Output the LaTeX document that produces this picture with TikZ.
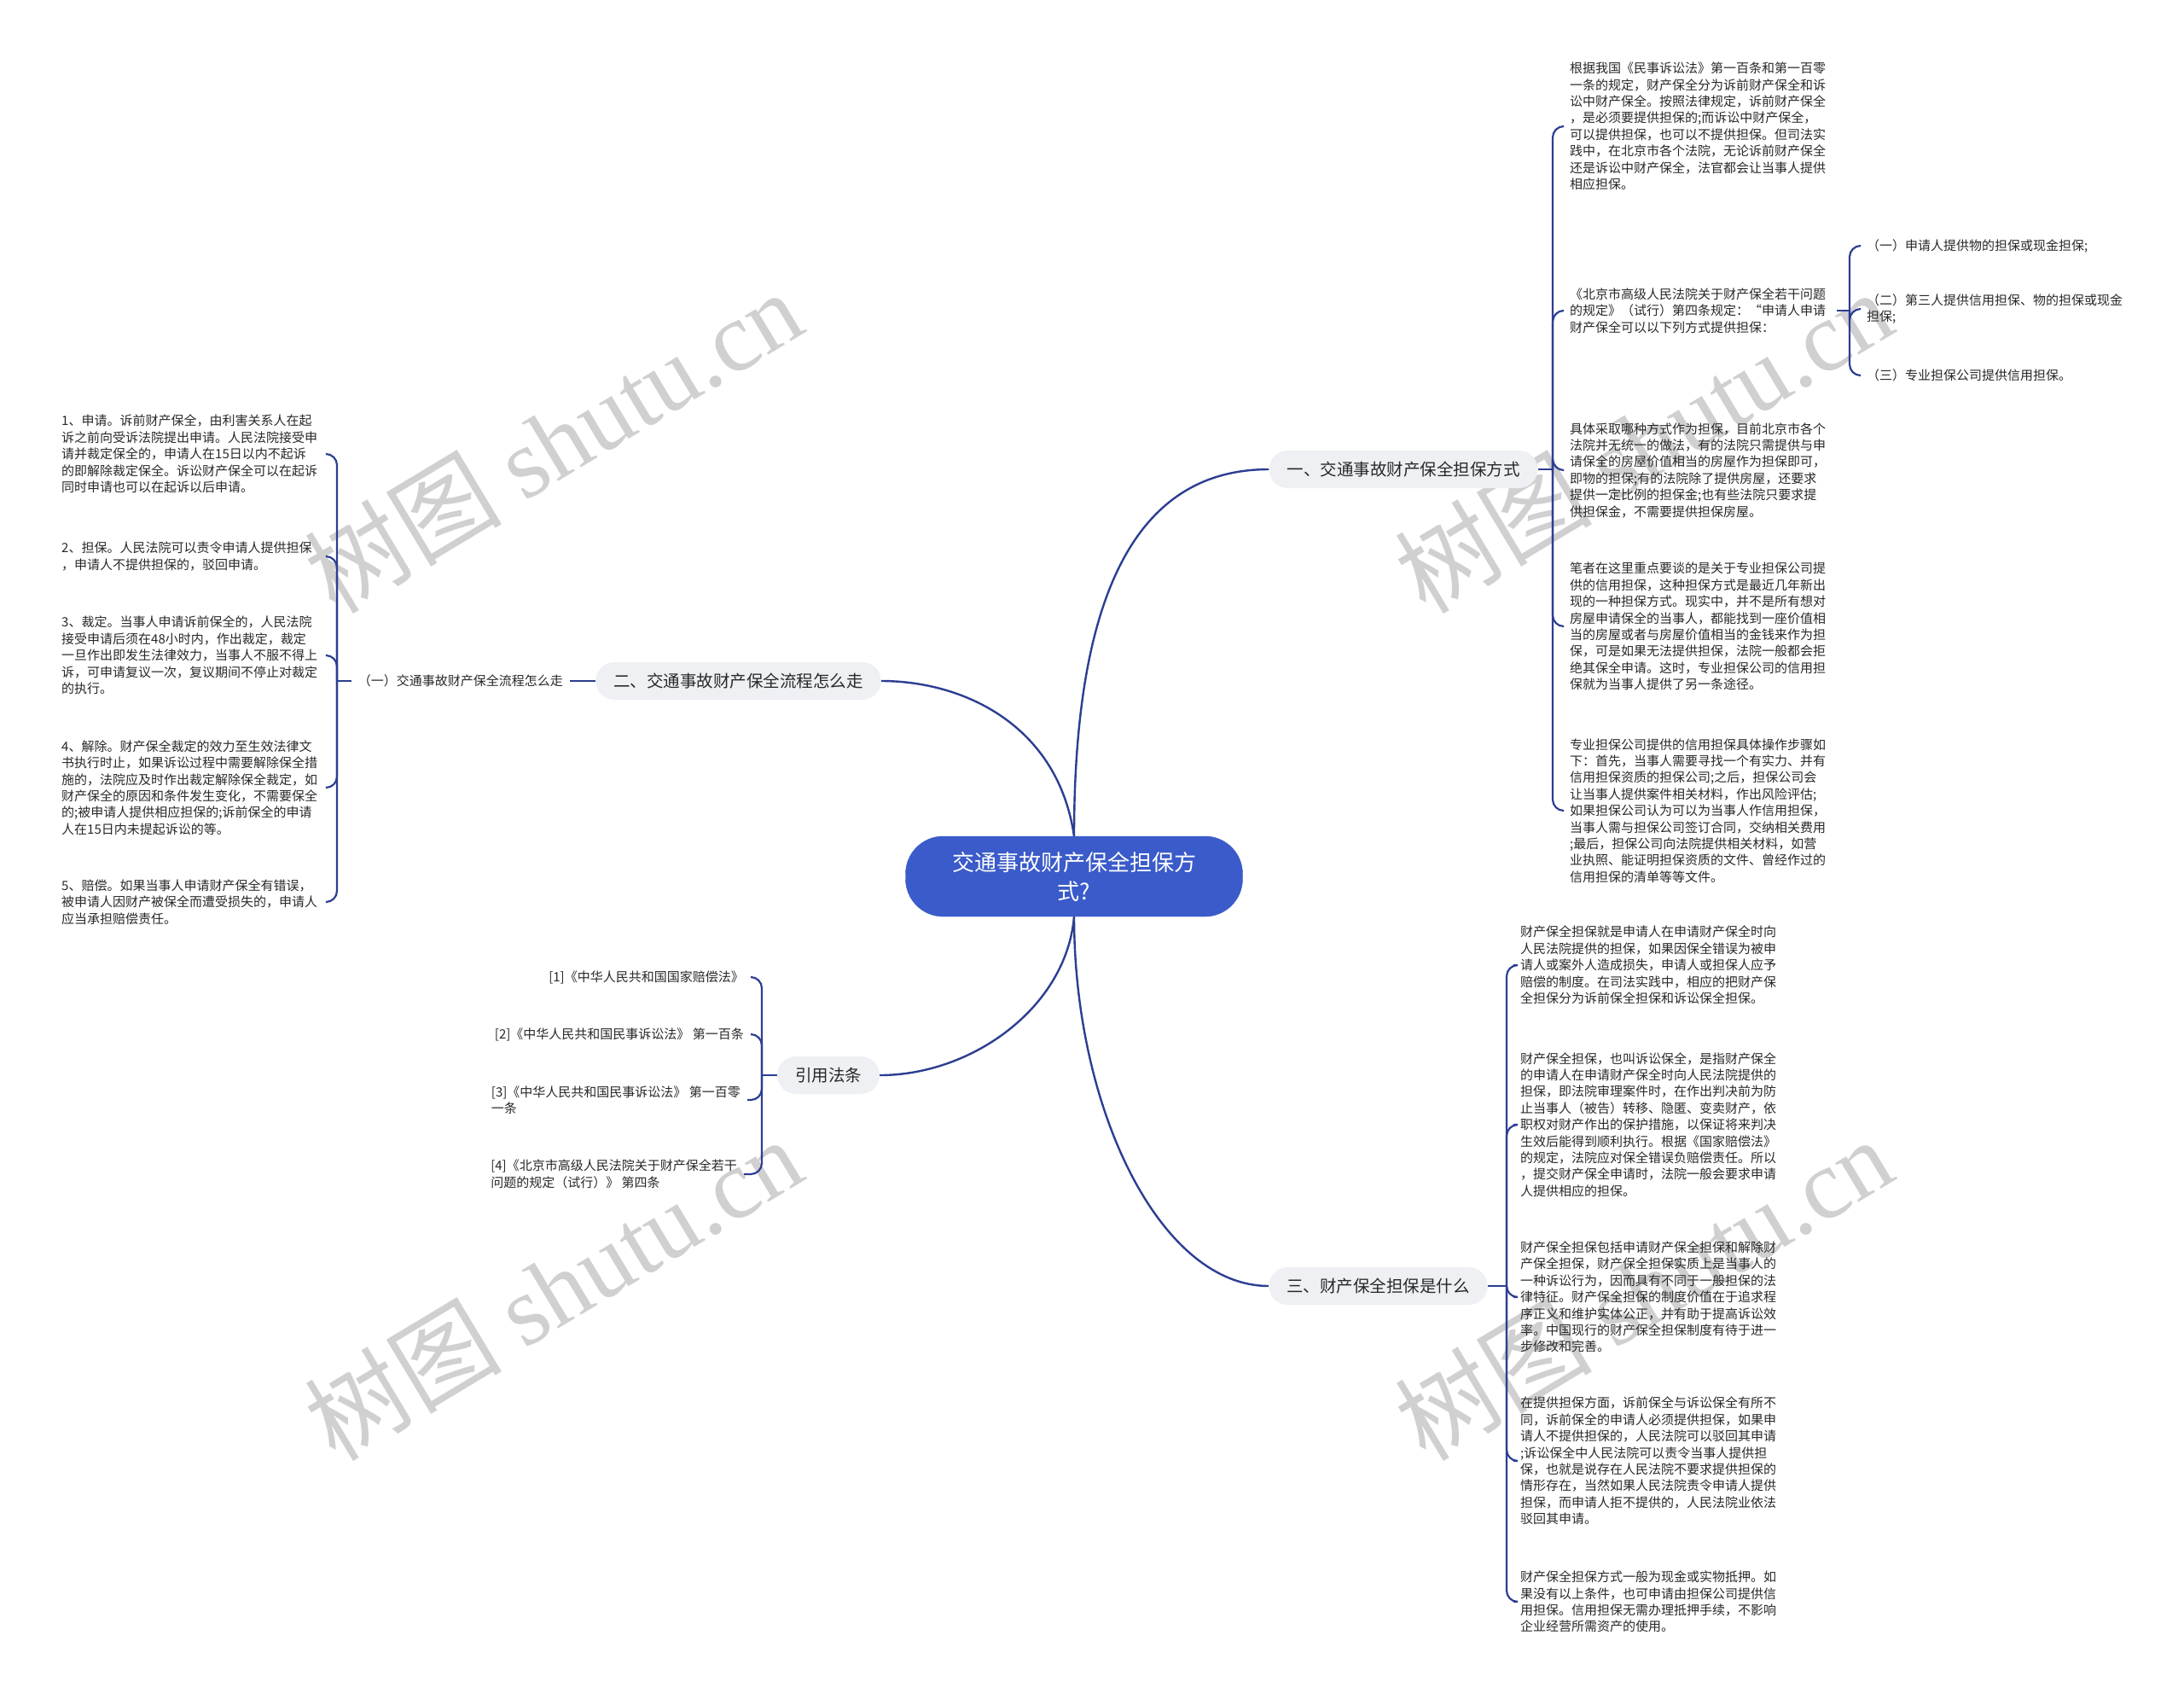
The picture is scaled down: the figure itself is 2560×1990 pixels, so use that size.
\documentclass[tikz,border=0pt]{standalone}
\usepackage{fontspec}
\setmainfont{Noto Sans CJK SC}
\newfontfamily\wmlatin{Liberation Serif}
\usetikzlibrary{backgrounds}
\definecolor{linec}{RGB}{44,62,145}
\definecolor{rootc}{RGB}{58,91,201}
\definecolor{branchc}{RGB}{238,240,244}
\definecolor{wmc}{RGB}{208,208,208}
\definecolor{txtc}{RGB}{40,40,40}
\tikzset{
  conn/.style={draw=linec, line width=2.2pt, rounded corners=13pt},
  mainconn/.style={draw=linec, line width=2.4pt},
  rootnode/.style={fill=rootc, draw=rootc, rounded corners=44pt, minimum width=395pt, minimum height=94pt, text=white, font=\fontsize{26}{34}\selectfont, align=center},
  branch/.style={fill=branchc, rounded corners=22pt, minimum height=44pt, inner xsep=21pt, text=txtc, font=\fontsize{19.5}{24}\selectfont},
  leaf/.style={anchor=west, inner xsep=8pt, inner ysep=0pt, text width=305pt, align=left, text=txtc, font=\fontsize{15}{19.4}\selectfont},
  leafl/.style={anchor=west, inner xsep=8pt, inner ysep=0pt, text width=303pt, align=left, text=txtc, font=\fontsize{15}{19.4}\selectfont},
  cite/.style={anchor=east, inner xsep=8pt, inner ysep=0pt, align=left, text=txtc, font=\fontsize{15}{19.4}\selectfont},
  wm/.style={text=wmc, rotate=31, inner sep=0pt, font=\fontsize{116}{116}\selectfont}
}
\begin{document}
\begin{tikzpicture}[x=1pt,y=-1pt]
\useasboundingbox (0,0) rectangle (2560,1990);

% root and branches
\node[rootnode] (root) at (1259,1027) {交通事故财产保全担保方\\式?};
\node[branch] (b1) at (1645,550) {一、交通事故财产保全担保方式};
\node[branch] (b2) at (865.5,798) {二、交通事故财产保全流程怎么走};
\node[branch] (b4) at (971,1260) {引用法条};
\node[branch] (b3) at (1615.5,1507) {三、财产保全担保是什么};

% junctions
\coordinate (J1) at (1820,550);
\coordinate (J5) at (2168,364);
\coordinate (J2) at (395,798);
\coordinate (J4) at (893,1260);
\coordinate (J3) at (1766,1507);

% branch 1 children
\node[leaf] (c1) at (1832,148) {根据我国《民事诉讼法》第一百条和第一百零\\一条的规定，财产保全分为诉前财产保全和诉\\讼中财产保全。按照法律规定，诉前财产保全\\，是必须要提供担保的;而诉讼中财产保全，\\可以提供担保，也可以不提供担保。但司法实\\践中，在北京市各个法院，无论诉前财产保全\\还是诉讼中财产保全，法官都会让当事人提供\\相应担保。};
\node[leaf] (c2) at (1832,364) {《北京市高级人民法院关于财产保全若干问题\\的规定》（试行）第四条规定：“申请人申请\\财产保全可以以下列方式提供担保：};
\node[leaf] (c3) at (1832,551) {具体采取哪种方式作为担保，目前北京市各个\\法院并无统一的做法，有的法院只需提供与申\\请保全的房屋价值相当的房屋作为担保即可，\\即物的担保;有的法院除了提供房屋，还要求\\提供一定比例的担保金;也有些法院只要求提\\供担保金，不需要提供担保房屋。};
\node[leaf] (c4) at (1832,734) {笔者在这里重点要谈的是关于专业担保公司提\\供的信用担保，这种担保方式是最近几年新出\\现的一种担保方式。现实中，并不是所有想对\\房屋申请保全的当事人，都能找到一座价值相\\当的房屋或者与房屋价值相当的金钱来作为担\\保，可是如果无法提供担保，法院一般都会拒\\绝其保全申请。这时，专业担保公司的信用担\\保就为当事人提供了另一条途径。};
\node[leaf] (c5) at (1832,950) {专业担保公司提供的信用担保具体操作步骤如\\下：首先，当事人需要寻找一个有实力、并有\\信用担保资质的担保公司;之后，担保公司会\\让当事人提供案件相关材料，作出风险评估;\\如果担保公司认为可以为当事人作信用担保，\\当事人需与担保公司签订合同，交纳相关费用\\;最后，担保公司向法院提供相关材料，如营\\业执照、能证明担保资质的文件、曾经作过的\\信用担保的清单等等文件。};

% c2 sub children
\node[leaf] (s1) at (2180,288) {（一）申请人提供物的担保或现金担保;};
\node[leaf] (s2) at (2180,362) {（二）第三人提供信用担保、物的担保或现金\\担保;};
\node[leaf] (s3) at (2180,440) {（三）专业担保公司提供信用担保。};

% branch 2 children
\node[cite] (k1) at (668,798) {（一）交通事故财产保全流程怎么走};
\node[leafl] (l1) at (64,532) {1、申请。诉前财产保全，由利害关系人在起\\诉之前向受诉法院提出申请。人民法院接受申\\请并裁定保全的，申请人在15日以内不起诉\\的即解除裁定保全。诉讼财产保全可以在起诉\\同时申请也可以在起诉以后申请。};
\node[leafl] (l2) at (64,652) {2、担保。人民法院可以责令申请人提供担保\\，申请人不提供担保的，驳回申请。};
\node[leafl] (l3) at (64,768) {3、裁定。当事人申请诉前保全的，人民法院\\接受申请后须在48小时内，作出裁定，裁定\\一旦作出即发生法律效力，当事人不服不得上\\诉，可申请复议一次，复议期间不停止对裁定\\的执行。};
\node[leafl] (l4) at (64,923) {4、解除。财产保全裁定的效力至生效法律文\\书执行时止，如果诉讼过程中需要解除保全措\\施的，法院应及时作出裁定解除保全裁定，如\\财产保全的原因和条件发生变化，不需要保全\\的;被申请人提供相应担保的;诉前保全的申请\\人在15日内未提起诉讼的等。};
\node[leafl] (l5) at (64,1057) {5、赔偿。如果当事人申请财产保全有错误，\\被申请人因财产被保全而遭受损失的，申请人\\应当承担赔偿责任。};

% citations
\node[cite] (q1) at (880,1145) {[1]《中华人民共和国国家赔偿法》};
\node[cite] (q2) at (880,1212) {[2]《中华人民共和国民事诉讼法》 第一百条};
\node[cite] (q3) at (876,1289) {[3]《中华人民共和国民事诉讼法》 第一百零\\一条};
\node[cite] (q4) at (872,1376) {[4]《北京市高级人民法院关于财产保全若干\\问题的规定（试行）》 第四条};

% branch 3 children
\node[leaf] (r1) at (1774,1131) {财产保全担保就是申请人在申请财产保全时向\\人民法院提供的担保，如果因保全错误为被申\\请人或案外人造成损失，申请人或担保人应予\\赔偿的制度。在司法实践中，相应的把财产保\\全担保分为诉前保全担保和诉讼保全担保。};
\node[leaf] (r2) at (1774,1318) {财产保全担保，也叫诉讼保全，是指财产保全\\的申请人在申请财产保全时向人民法院提供的\\担保，即法院审理案件时，在作出判决前为防\\止当事人（被告）转移、隐匿、变卖财产，依\\职权对财产作出的保护措施，以保证将来判决\\生效后能得到顺利执行。根据《国家赔偿法》\\的规定，法院应对保全错误负赔偿责任。所以\\，提交财产保全申请时，法院一般会要求申请\\人提供相应的担保。};
\node[leaf] (r3) at (1774,1520) {财产保全担保包括申请财产保全担保和解除财\\产保全担保，财产保全担保实质上是当事人的\\一种诉讼行为，因而具有不同于一般担保的法\\律特征。财产保全担保的制度价值在于追求程\\序正义和维护实体公正，并有助于提高诉讼效\\率。中国现行的财产保全担保制度有待于进一\\步修改和完善。};
\node[leaf] (r4) at (1774,1712) {在提供担保方面，诉前保全与诉讼保全有所不\\同，诉前保全的申请人必须提供担保，如果申\\请人不提供担保的，人民法院可以驳回其申请\\;诉讼保全中人民法院可以责令当事人提供担\\保，也就是说存在人民法院不要求提供担保的\\情形存在，当然如果人民法院责令申请人提供\\担保，而申请人拒不提供的，人民法院业依法\\驳回其申请。};
\node[leaf] (r5) at (1774,1877) {财产保全担保方式一般为现金或实物抵押。如\\果没有以上条件，也可申请由担保公司提供信\\用担保。信用担保无需办理抵押手续，不影响\\企业经营所需资产的使用。};

\begin{scope}[on background layer]
  \fill[white] (0,0) rectangle (2560,1990);
  % watermarks
  \node[wm] (w1) at (648,517) {树图 {\wmlatin shutu.cn}};
  \node[wm] (w2) at (1926,517) {树图 {\wmlatin shutu.cn}};
  \node[wm] (w3) at (648,1510) {树图 {\wmlatin shutu.cn}};
  \node[wm] (w4) at (1926,1510) {树图 {\wmlatin shutu.cn}};

  % main connectors
  \draw[mainconn] (root.north) .. controls (1259,700) and (1330,550) .. (b1.west);
  \draw[mainconn] (b2.east) .. controls (1130,798) and (1240,850) .. (root.north);
  \draw[mainconn] (root.south) .. controls (1250,1180) and (1140,1260) .. (b4.east);
  \draw[mainconn] (root.south) .. controls (1259,1300) and (1360,1507) .. (b3.west);

  % branch 1 bracket
  \draw[conn] (b1.east) -- (J1);
  \foreach \c in {c1,c2,c3,c4,c5} \draw[conn] (J1) |- (\c.west);
  \draw[conn] (c2.east) -- (J5);
  \foreach \c in {s1,s2,s3} \draw[conn] (J5) |- (\c.west);

  % branch 2 bracket
  \draw[conn] (b2.west) -- (k1.east);
  \draw[conn] (k1.west) -- (J2);
  \foreach \c in {l1,l2,l3,l4,l5} \draw[conn] (J2) |- (\c.east);

  % citations bracket
  \draw[conn] (b4.west) -- (J4);
  \foreach \c in {q1,q2,q3,q4} \draw[conn] (J4) |- (\c.east);

  % branch 3 bracket
  \draw[conn] (b3.east) -- (J3);
  \foreach \c in {r1,r2,r3,r4,r5} \draw[conn] (J3) |- (\c.west);
\end{scope}
\end{tikzpicture}
\end{document}
